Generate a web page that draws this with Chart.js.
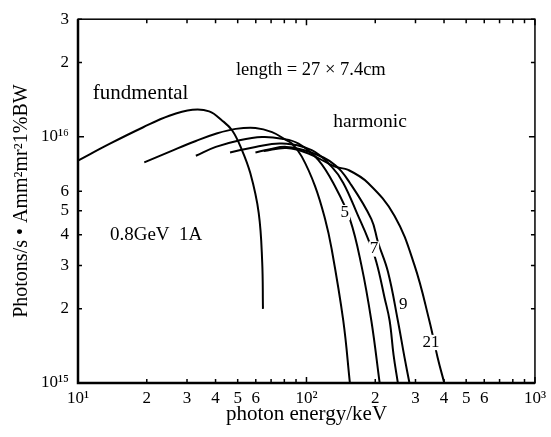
<!DOCTYPE html>
<html lang="en">
<head>
<meta charset="UTF-8">
<title>Undulator spectrum</title>
<script src="https://cdn.jsdelivr.net/npm/chart.js"></script>
<style>
  html, body { margin: 0; padding: 0; background: #fff; }
  #wrap { width: 551px; height: 437px; }
</style>
</head>
<body>
<div id="wrap"><canvas id="grafico" width="551" height="437"></canvas></div>
<script>
// photon energy (keV) and brightness for each curve
const fundE = [10, 13.8, 19.2, 25.1, 31.7, 37.5, 42.8, 47.3, 51.5, 56.8, 61.8, 64.0, 64.5];
const fundV = [8.0e15, 9.37e15, 1.09e16, 1.217e16, 1.286e16, 1.267e16, 1.162e16, 1.06e16, 9.09e15, 7.1e15, 4.9e15, 3.1e15, 2.0e15];

const h3E = [19.5, 25.1, 32.8, 40.1, 49.0, 59.8, 70.7, 80.8, 86.3, 95.4, 109.1, 120.6, 128.8, 144.9, 154.9];
const h3V = [7.87e15, 8.68e15, 9.61e15, 1.028e16, 1.076e16, 1.086e16, 1.044e16, 9.73e15, 9.38e15, 8.30e15, 6.29e15, 4.63e15, 3.51e15, 1.79e15, 1.0e15];

const h5E = [32.8, 40.1, 50.6, 63.9, 78.1, 92.3, 112.8, 133.3, 154.9, 173.9, 192.3, 209.1];
const h5V = [8.37e15, 9.09e15, 9.66e15, 9.97e15, 9.82e15, 9.38e15, 8.04e15, 6.29e15, 4.63e15, 3.01e15, 1.79e15, 1.0e15];

const h7E = [46.3, 59.8, 78.1, 105.4, 128.8, 144.9, 168.3, 186.0, 202.2, 219.9, 231.2, 240.5, 251.2];
const h7V = [8.63e15, 9.09e15, 9.38e15, 8.82e15, 7.56e15, 6.49e15, 4.77e15, 3.85e15, 3.10e15, 2.21e15, 1.79e15, 1.30e15, 1.0e15];

const h9E = [59.8, 68.4, 81.8, 104.1, 133.3, 154.9, 192.3, 205.6, 227.3, 251.2, 268.6, 282.3];
const h9V = [8.63e15, 8.87e15, 9.09e15, 8.65e15, 7.68e15, 6.49e15, 4.63e15, 3.73e15, 2.83e15, 1.79e15, 1.27e15, 1.0e15];

const h21E = [65.0, 81.8, 102, 133.3, 152.3, 186.0, 243.0, 296.9, 345.0, 374.9, 401];
const h21V = [8.75e15, 9.0e15, 8.55e15, 7.56e15, 7.33e15, 6.49e15, 4.77e15, 3.01e15, 1.79e15, 1.27e15, 1.0e15];

// axis ticks
const xTickValues = [10, 20, 30, 40, 50, 60, 70, 80, 90, 100, 200, 300, 400, 500, 600, 700, 800, 900, 1000];
const xTickLabels = ['10¹', '2', '3', '4', '5', '6', '', '', '', '10²', '2', '3', '4', '5', '6', '', '', '', '10³'];
const yTickValues = [1e15, 2e15, 3e15, 4e15, 5e15, 6e15, 1e16, 2e16, 3e16];
const yTickLabels = ['10¹⁵', '2', '3', '4', '5', '6', '10¹⁶', '2', '3'];

const serif = "'Liberation Serif', 'DejaVu Serif', serif";

function pontos(es, vs) {
    return es.map((e, i) => ({ x: e, y: vs[i] }));
}

function curva(es, vs) {
    return {
        data: pontos(es, vs),
        showLine: true,
        borderColor: '#000',
        borderWidth: 2,
        pointRadius: 0,
        fill: false,
        tension: 0.4
    };
}

function ehDecada(v) {
    const l = Math.log10(v);
    return Math.abs(l - Math.round(l)) < 1e-6;
}

// frame with inward ticks on all four sides
const moldura = {
    id: 'moldura',
    afterDraw(chart) {
        const ctx = chart.ctx;
        const a = chart.chartArea;
        const sx = chart.scales.x;
        const sy = chart.scales.y;
        ctx.save();
        ctx.strokeStyle = '#000';
        ctx.lineWidth = 1.5;
        ctx.strokeRect(a.left, a.top, a.right - a.left, a.bottom - a.top);
        ctx.lineWidth = 2.5;
        ctx.beginPath();
        ctx.moveTo(a.left, a.top);
        ctx.lineTo(a.left, a.bottom);
        ctx.lineTo(a.right, a.bottom);
        ctx.stroke();

        ctx.lineWidth = 1.5;
        sx.ticks.forEach(t => {
            const x = sx.getPixelForValue(t.value);
            const len = ehDecada(t.value) ? 6 : 4;
            ctx.beginPath();
            ctx.moveTo(x, a.bottom);
            ctx.lineTo(x, a.bottom - len);
            ctx.moveTo(x, a.top);
            ctx.lineTo(x, a.top + len);
            ctx.stroke();
        });
        sy.ticks.forEach(t => {
            const y = sy.getPixelForValue(t.value);
            const len = ehDecada(t.value) ? 6 : 4;
            ctx.beginPath();
            ctx.moveTo(a.left, y);
            ctx.lineTo(a.left + len, y);
            ctx.moveTo(a.right, y);
            ctx.lineTo(a.right - len, y);
            ctx.stroke();
        });
        ctx.restore();
    }
};

// text notes placed in data coordinates
const notas = {
    id: 'notas',
    afterDatasetsDraw(chart) {
        const ctx = chart.ctx;
        const sx = chart.scales.x;
        const sy = chart.scales.y;
        ctx.save();
        ctx.fillStyle = '#000';
        ctx.textBaseline = 'middle';
        ctx.textAlign = 'left';

        function escreve(txt, e, v, size, fundo) {
            const x = sx.getPixelForValue(e);
            const y = sy.getPixelForValue(v);
            ctx.font = size + 'px ' + serif;
            if (fundo) {
                const w = ctx.measureText(txt).width;
                ctx.fillStyle = '#fff';
                ctx.fillRect(x - 1, y - size * 0.45, w + 2, size * 0.9);
                ctx.fillStyle = '#000';
            }
            ctx.fillText(txt, x, y);
        }

        escreve('length = 27 × 7.4cm', 49.1, 1.87e16, 18.5);
        escreve('fundmental', 11.6, 1.5e16, 21);
        escreve('harmonic', 131, 1.148e16, 19.5);
        escreve('0.8GeV  1A', 13.8, 3.98e15, 19);

        escreve('5', 141, 4.92e15, 17, true);
        escreve('7', 189, 3.50e15, 17, true);
        escreve('9', 254, 2.09e15, 17, true);
        escreve('21', 322, 1.46e15, 17, true);
        ctx.restore();
    }
};

new Chart(document.getElementById('grafico'), {
    type: 'scatter',
    data: {
        datasets: [
            curva(fundE, fundV),
            curva(h3E, h3V),
            curva(h5E, h5V),
            curva(h7E, h7V),
            curva(h9E, h9V),
            curva(h21E, h21V)
        ]
    },
    options: {
        responsive: false,
        animation: false,
        devicePixelRatio: 1,
        layout: { padding: { top: 14, right: 13, left: 0, bottom: 0 } },
        plugins: {
            legend: { display: false },
            tooltip: { enabled: false }
        },
        scales: {
            x: {
                type: 'logarithmic',
                min: 10,
                max: 1000,
                afterBuildTicks: s => { s.ticks = xTickValues.map(v => ({ value: v })); },
                afterFit: s => { s.height = 54; },
                grid: { display: false, drawTicks: false },
                border: { display: false },
                ticks: {
                    autoSkip: false,
                    maxRotation: 0,
                    padding: 5,
                    color: '#000',
                    font: { family: serif, size: 17 },
                    callback: v => xTickLabels[xTickValues.indexOf(v)]
                },
                title: {
                    display: true,
                    text: 'photon energy/keV',
                    color: '#000',
                    font: { family: serif, size: 21 },
                    padding: { top: 0, bottom: 10 }
                }
            },
            y: {
                type: 'logarithmic',
                min: 1e15,
                max: 3e16,
                afterBuildTicks: s => { s.ticks = yTickValues.map(v => ({ value: v })); },
                afterFit: s => { s.width = 78; },
                grid: { display: false, drawTicks: false },
                border: { display: false },
                ticks: {
                    autoSkip: false,
                    padding: 9,
                    color: '#000',
                    font: { family: serif, size: 17 },
                    callback: v => yTickLabels[yTickValues.indexOf(v)]
                },
                title: {
                    display: true,
                    text: 'Photons/s • Amm²mr²1%BW',
                    color: '#000',
                    font: { family: serif, size: 20 },
                    padding: { top: 10, bottom: 0 }
                }
            }
        }
    },
    plugins: [moldura, notas]
});
</script>
</body>
</html>
